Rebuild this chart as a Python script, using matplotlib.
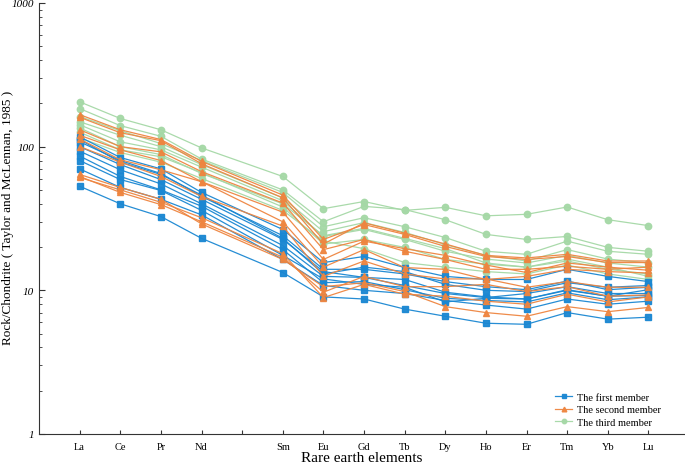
import matplotlib

matplotlib.use("Agg")
import matplotlib.pyplot as plt  # noqa: E402
from matplotlib.ticker import LogLocator, NullFormatter, FixedLocator  # noqa: E402

plt.rcParams["font.family"] = ["Liberation Serif", "DejaVu Serif"]

# chondrite-normalised REE, one list per sample (Pm skipped)
elements = ["La", "Ce", "Pr", "Nd", "Sm", "Eu", "Gd", "Tb", "Dy", "Ho", "Er", "Tm", "Yb", "Lu"]
tick_labels = ["La", "Ce", "Pr", "Nd", "", "Sm", "Eu", "Gd", "Tb", "Dy", "Ho", "Er", "Tm", "Yb", "Lu"]

first_member = [
    [117, 84, 70, 48, 26.5, 15.6, 17.2, 14.4, 12.5, 11.9, 11.9, 14.0, 12.5, 11.5],
    [112, 78, 64, 46, 23.0, 13.0, 14.5, 13.5, 11.0, 10.0, 9.8, 11.3, 10.5, 10.8],
    [108, 80, 65, 45, 24.0, 14.0, 14.0, 13.0, 11.5, 10.6, 10.1, 11.6, 10.1, 10.5],
    [100, 75, 59, 43, 22.6, 13.5, 12.3, 11.9, 9.7, 9.0, 8.7, 10.1, 9.1, 10.1],
    [93, 69, 55, 40, 20.5, 12.5, 12.3, 10.8, 9.5, 8.9, 9.5, 10.6, 9.5, 9.5],
    [86, 62, 50, 38.5, 19.2, 11.3, 11.5, 10.1, 8.8, 8.5, 8.3, 9.6, 8.6, 9.0],
    [80, 59, 49.5, 36, 17.5, 12.0, 11.0, 10.5, 8.3, 8.8, 8.7, 10.0, 9.1, 9.2],
    [70, 52, 43, 33.5, 16.4, 10.8, 10.0, 9.5, 8.5, 7.9, 7.4, 8.7, 8.0, 8.4],
    [53, 40, 32.6, 23, 13.3, 9.0, 8.7, 7.4, 6.6, 5.9, 5.8, 7.0, 6.3, 6.5],
]
second_member = [
    [167, 131, 112, 79, 46, 22.6, 28.7, 24.5, 20.2, 17.2, 16.4, 17.2, 15.6, 15.6],
    [160, 125, 110, 76, 44, 21.0, 29.5, 25.0, 21.0, 17.5, 16.8, 17.8, 16.0, 16.0],
    [131, 100, 92, 67, 40.5, 19.2, 22.6, 18.7, 16.4, 14.0, 14.0, 14.7, 14.0, 14.5],
    [120, 95, 80, 57, 35, 16.4, 22.0, 19.5, 17.5, 15.0, 13.3, 15.5, 14.5, 13.8],
    [113, 81, 69, 57, 30, 14.5, 19.2, 14.4, 14.0, 11.9, 12.5, 14.0, 13.5, 13.2],
    [100, 78, 62, 45, 28, 12.5, 16.0, 13.0, 12.0, 12.0, 10.5, 11.5, 10.5, 10.5],
    [64, 52, 43, 29, 16.4, 10.6, 11.3, 9.8, 7.7, 7.0, 6.6, 7.7, 7.1, 7.6],
    [62, 48, 39.5, 30, 17, 9.7, 12.5, 10.6, 10.6, 11.0, 9.8, 10.6, 9.1, 9.3],
    [61, 50, 41, 32, 18, 8.9, 11.0, 9.4, 9.1, 8.4, 8.0, 9.4, 8.3, 9.0],
]
third_member = [
    [205, 157, 131, 98, 62, 37.0, 41.5, 36.0, 37.8, 33.0, 33.8, 38.0, 31.0, 28.2],
    [184, 140, 118, 82, 50, 30.0, 38.4, 36.5, 31.0, 24.5, 22.6, 23.7, 19.9, 18.7],
    [162, 129, 105, 80, 48, 27.7, 32.0, 27.7, 23.3, 18.7, 17.8, 22.0, 18.7, 17.8],
    [149, 120, 100, 75, 44, 25.6, 29.6, 25.3, 20.8, 17.5, 16.0, 19.2, 16.5, 15.5],
    [142, 108, 95, 72, 42, 23.7, 26.5, 22.6, 18.7, 16.5, 15.5, 17.5, 15.5, 14.5],
    [135, 100, 88, 65, 40, 24.0, 27.0, 23.0, 19.5, 15.5, 14.5, 16.0, 14.0, 13.0],
    [126, 95, 85, 66, 38, 21.0, 22.6, 19.9, 16.4, 15.2, 14.5, 16.5, 14.5, 12.5],
    [115, 91, 78, 60, 36, 22.0, 19.5, 15.6, 14.5, 13.5, 13.0, 15.0, 13.0, 11.9],
]

BLUE, ORANGE, GREEN = "#1a87d2", "#ee8540", "#a5d8a6"
xpos = [1, 2, 3, 4, 6, 7, 8, 9, 10, 11, 12, 13, 14, 15]

fig = plt.figure(figsize=(6.85, 4.64), dpi=100)
ax = fig.add_axes([0.057, 0.0625, 0.943, 0.929])

groups = [
    (first_member, BLUE, "s", 4.4, "The first member", 3),
    (second_member, ORANGE, "^", 4.8, "The second member", 4),
    (third_member, GREEN, "o", 4.6, "The third member", 2),
]
for rows, color, marker, ms, label, z in groups:
    for i, row in enumerate(rows):
        ax.plot(xpos, row, color=color, marker=marker, ms=ms, lw=0.9, alpha=0.95,
                mec=color, zorder=z, label=label if i == 0 else None)

ax.set_yscale("log")
ax.set_ylim(1, 1000)
ax.set_xlim(0, 15.9)
ax.yaxis.set_minor_locator(LogLocator(base=10, subs=range(2, 10)))
ax.yaxis.set_minor_formatter(NullFormatter())
ax.set_yticks([1, 10, 100, 1000])
ax.set_yticklabels(["1", "10", "100", "1000"], fontstyle="italic", fontsize=8)
ax.xaxis.set_major_locator(FixedLocator(list(range(1, 16))))
ax.set_xticklabels(tick_labels, fontsize=7.5)
ax.tick_params(axis="both", which="both", direction="in", color="#333333")
ax.tick_params(axis="y", which="major", length=4, pad=3.5)
ax.tick_params(axis="y", which="minor", length=2.5)
ax.tick_params(axis="x", length=3, pad=6)

ax.spines["top"].set_visible(False)
ax.spines["right"].set_visible(False)
ax.spines["left"].set_color("#333333")
ax.spines["bottom"].set_color("#333333")

# axis titles placed on the figure so they sit as close to the edge as in the original
fig.text(0.528, 0.004, "Rare earth elements", fontsize=11, ha="center", va="baseline")
fig.text(0.012, 0.53, "Rock/Chondrite ( Taylor and McLennan, 1985 )", fontsize=9.5,
         rotation=90, ha="center", va="center")

ax.legend(loc="lower left", bbox_to_anchor=(0.785, -0.005), frameon=False, fontsize=7.5,
          handlelength=1.6, handletextpad=0.5, labelspacing=0.3, markerscale=0.7)

fig.savefig("out.png", dpi=100)
